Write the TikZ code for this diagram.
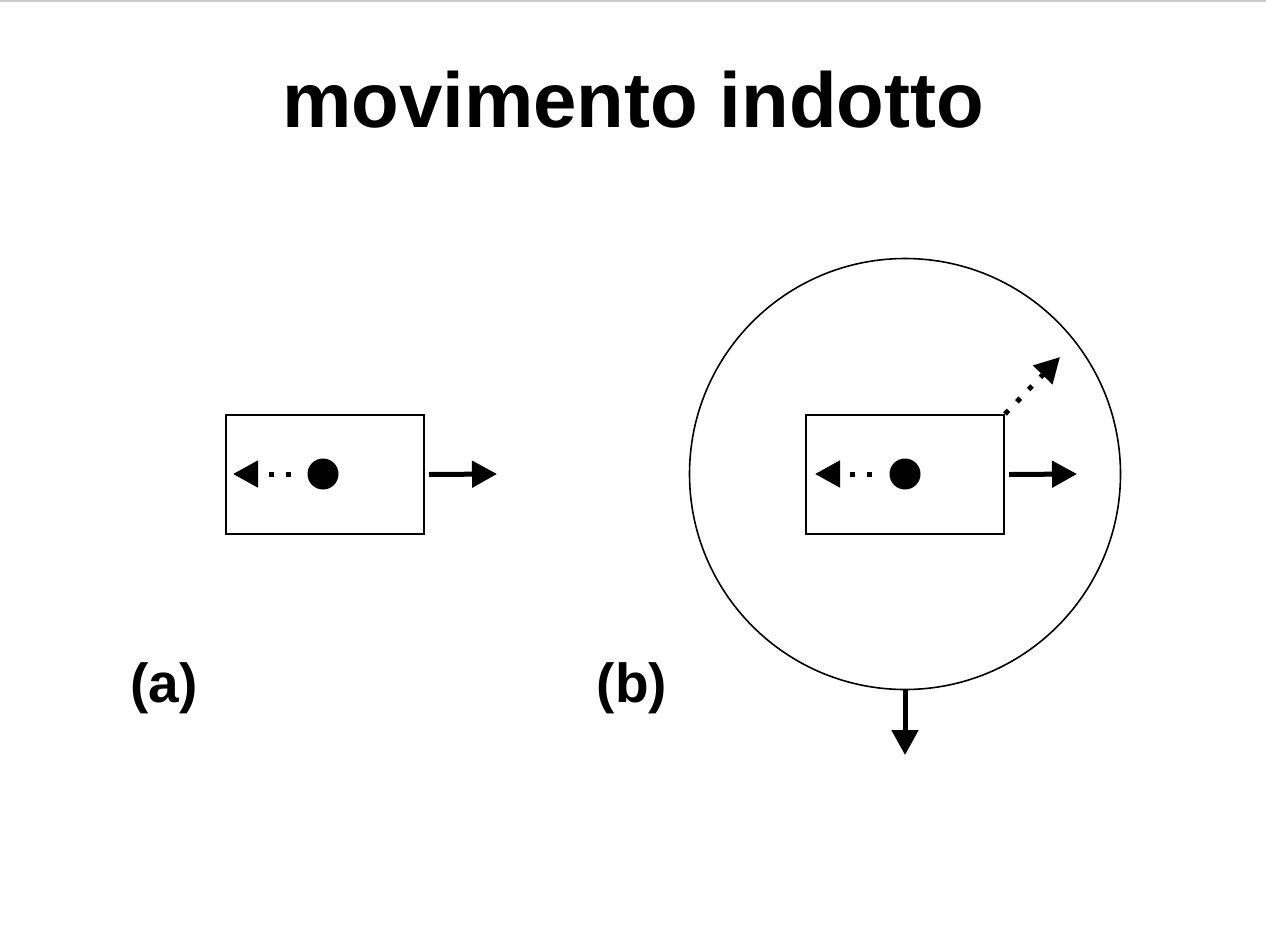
\documentclass[tikz,border=0pt]{standalone}
\usepackage{fontspec}
\setmainfont{Liberation Sans}
\usetikzlibrary{arrows.meta}
\begin{document}
\begin{tikzpicture}[x=1pt,y=-1pt,
  boxn/.style={draw,line width=2pt,minimum width=198pt,minimum height=119pt,inner sep=0pt},
  dotn/.style={circle,fill=black,minimum size=31pt,inner sep=0pt},
  solidarr/.style={line width=5pt,-{Triangle[length=25pt,width=26pt]}},
  dotarr/.style={line width=5pt,dash pattern=on 5pt off 12pt,-{Triangle[length=25pt,width=26pt]}},
  lbl/.style={font=\fontsize{55}{60}\selectfont\bfseries,inner sep=0pt}]
\useasboundingbox (0,0) rectangle (1266,946);
\fill[white] (0,0) rectangle (1266,946);
\draw[gray!40,line width=2pt] (0,1) -- (1266,1);
\node[font=\fontsize{78}{84}\selectfont\bfseries,inner sep=0pt] (title) at (633,100) {movimento indotto};
% (a)
\node[boxn] (boxa) at (325,474.5) {};
\node[dotn] (dota) at (323,474) {};
\coordinate (atipL) at (233,474);
\coordinate (atipR) at (497,474);
\draw[dotarr] ([xshift=-16pt]dota.west) -- (atipL);
\draw[solidarr] ([xshift=4pt]boxa.east) -- (atipR);
\node[lbl] (la) at (164,688) {(a)};
% (b)
\node[draw,circle,line width=1.6pt,minimum size=431pt,inner sep=0pt] (circ) at (905,474) {};
\node[boxn] (boxb) at (905,474.5) {};
\node[dotn] (dotb) at (905,474) {};
\coordinate (btipL) at (815,474);
\coordinate (btipR) at (1077,474);
\coordinate (btipD) at (1060,357);
\coordinate (btipS) at (905,755);
\draw[dotarr] ([xshift=-17.5pt]dotb.west) -- (btipL);
\draw[solidarr] ([xshift=4pt]boxb.east) -- (btipR);
\draw[dotarr] (boxb.north east) -- (btipD);
\draw[solidarr] (circ.south) -- (btipS);
\node[lbl] (lb) at (632,688) {(b)};
\end{tikzpicture}
\end{document}
